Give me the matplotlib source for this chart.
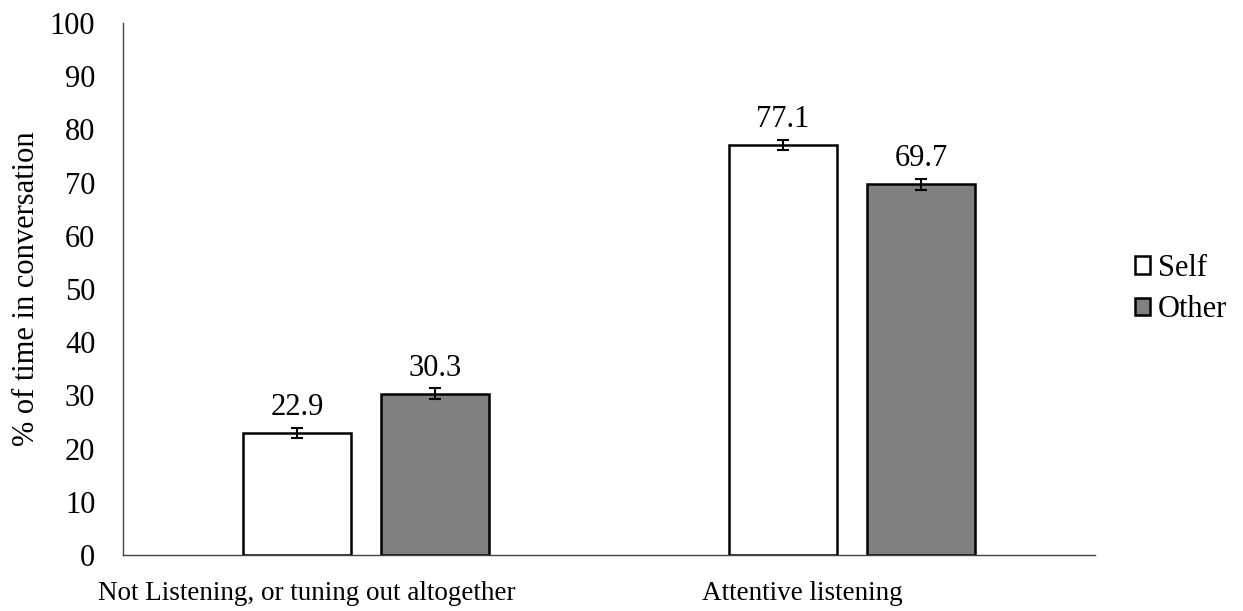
import numpy as np
import matplotlib
matplotlib.use("Agg")
import matplotlib.pyplot as plt

categories = ["Not Listening, or tuning out altogether", "Attentive listening"]
self_vals = [22.9, 77.1]
other_vals = [30.3, 69.7]
self_err = [1.0, 1.0]
other_err = [1.0, 1.0]

plt.rcParams['font.family'] = ['Liberation Serif', 'DejaVu Serif']

fig = plt.figure(figsize=(12.43, 6.11), dpi=100)
ax = fig.add_axes([0.099, 0.0917, 0.782, 0.8705])

x = np.arange(len(categories))
w = 0.222
off = 0.142
ekw = dict(elinewidth=1.5, capthick=1.5)
bars1 = ax.bar(x - off, self_vals, w, color='white', edgecolor='black', linewidth=1.8,
               yerr=self_err, capsize=4, error_kw=ekw, label='Self')
bars2 = ax.bar(x + off, other_vals, w, color='#808080', edgecolor='black', linewidth=1.8,
               yerr=other_err, capsize=4, error_kw=ekw, label='Other')

for b, v in zip(list(bars1) + list(bars2), self_vals + other_vals):
    ax.text(b.get_x() + b.get_width() / 2, v + 3.4, f"{v:.1f}", ha='center', va='baseline', fontsize=22)

ax.set_xlim(-0.5, 1.5)
ax.set_ylim(0, 100)
ax.set_yticks(range(0, 101, 10))
ax.set_xticks(x)
ax.set_xticklabels([])
ax.tick_params(axis='both', length=0, labelsize=22)
ax.tick_params(axis='y', pad=20)

# category labels sit a little left of the category centre, as in the source
shifts = [-43, -36]
for xi, cat, dx in zip(x, categories, shifts):
    ax.annotate(cat, xy=(xi, 0), xycoords=('data', 'axes fraction'), xytext=(dx, -19),
                textcoords='offset points', ha='center', va='top', fontsize=19.5)

ax.set_ylabel("% of time in conversation", fontsize=22, labelpad=6)
for s in ['top', 'right']:
    ax.spines[s].set_visible(False)
for s in ['left', 'bottom']:
    ax.spines[s].set_color('#444444')
    ax.spines[s].set_linewidth(1.0)

ax.legend(loc='center left', bbox_to_anchor=(1.041, 0.5), frameon=False, fontsize=22,
          handlelength=0.5, handleheight=0.5, handletextpad=0.25, labelspacing=0.4,
          borderaxespad=0, borderpad=0)

fig.savefig("out.png", dpi=100)
